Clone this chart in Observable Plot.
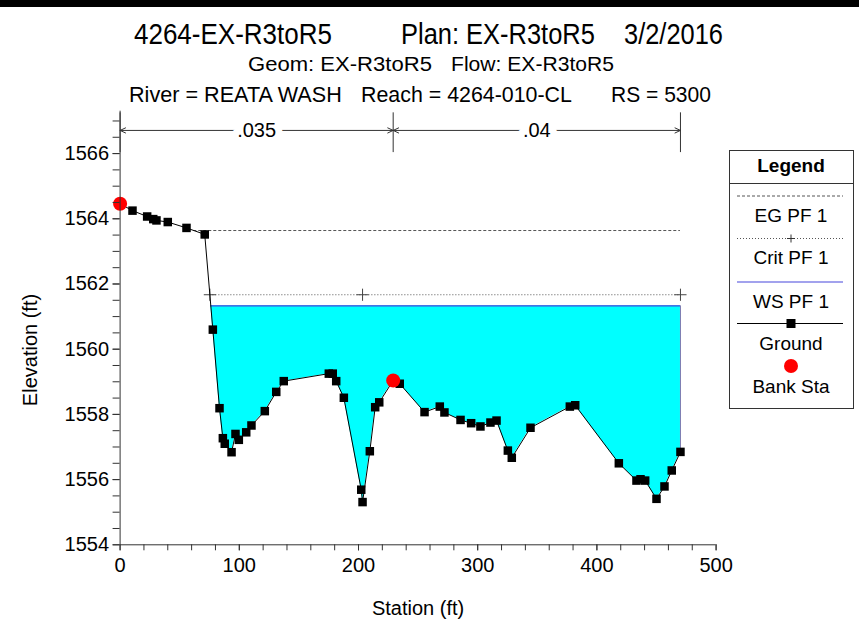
<!DOCTYPE html>
<html><head><meta charset="utf-8">
<script src="https://cdn.jsdelivr.net/npm/d3@7"></script>
<script src="https://cdn.jsdelivr.net/npm/@observablehq/plot@0.6"></script>
<style>
html,body{margin:0;padding:0;background:#fff;}
#wrap{position:relative;width:859px;height:622px;overflow:hidden;font-family:"Liberation Sans",Arial,sans-serif;}
#wrap > svg{position:absolute;left:0;top:0;}
</style></head><body><div id="wrap"></div>
<script>
// ---- data ----
const station = [0, 10.4, 22.7, 27.8, 30.5, 40, 55.7, 71, 77.8, 83.4, 86.2, 87.8, 93.5, 96.8, 99.6, 105.8, 110.2, 121.4, 131, 137.3, 175.1, 178.4, 181.3, 187.7, 202.3, 203.4, 209.5, 214, 217.4, 229.1, 234.6, 255.4, 268.2, 272.1, 285.6, 294.5, 302.3, 310.7, 315.8, 325.3, 328.6, 344.3, 377.3, 381.8, 418.4, 433.2, 436.6, 440.5, 450, 456.7, 462.8, 470.1];
const elevation = [1564.46, 1564.25, 1564.07, 1563.99, 1563.95, 1563.9, 1563.72, 1563.52, 1560.6, 1558.19, 1557.27, 1557.1, 1556.84, 1557.4, 1557.22, 1557.45, 1557.66, 1558.1, 1558.69, 1559.02, 1559.25, 1559.25, 1559.02, 1558.51, 1555.69, 1555.31, 1556.87, 1558.22, 1558.37, 1559.04, 1558.94, 1558.07, 1558.24, 1558.06, 1557.83, 1557.73, 1557.63, 1557.75, 1557.81, 1556.89, 1556.67, 1557.59, 1558.24, 1558.28, 1556.5, 1555.97, 1556.01, 1555.97, 1555.41, 1555.79, 1556.28, 1556.85];
const bankStation = [0, 229.1];
const bankElevation = [1564.46, 1559.04];
const wsElevation = 1561.33;
const egElevation = 1563.64;
const critElevation = 1561.67;
const nBreaks = [0, 229.1, 470.1];
const nValues = [".035", ".04"];
const xTicks = [0, 100, 200, 300, 400, 500];
const yTicks = [1554, 1556, 1558, 1560, 1562, 1564, 1566];
const titleLine1 = ["4264-EX-R3toR5", "Plan: EX-R3toR5", "3/2/2016"];
const titleLine2 = ["Geom: EX-R3toR5", "Flow: EX-R3toR5"];
const titleLine3 = ["River = REATA WASH", "Reach = 4264-010-CL", "RS = 5300"];
const legendLabels = ["EG PF 1", "Crit PF 1", "WS PF 1", "Ground", "Bank Sta"];
const xLabel = "Station (ft)";
const yLabel = "Elevation (ft)";

// ---- derived tables ----
const ground = station.map((s, i) => ({x: s, y: elevation[i]}));
const bank = bankStation.map((s, i) => ({x: s, y: bankElevation[i]}));
const endStation = station[station.length - 1];
const endElev = elevation[elevation.length - 1];
function crossing(level) {
  for (let i = 1; i < ground.length; i++) {
    const a = ground[i - 1], b = ground[i];
    if (a.y >= level && b.y < level) return a.x + (a.y - level) / (a.y - b.y) * (b.x - a.x);
  }
  return ground[0].x;
}
const wsStart = crossing(wsElevation);
const egStart = crossing(egElevation);
const critStart = crossing(critElevation);
const water = [{x: wsStart, y: wsElevation}, ...ground.filter(d => d.x > wsStart)];
const thalweg = d3.least(ground, d => d.y).x;
const critMarks = [critStart, thalweg, endStation];
const nZones = nValues.map((n, i) => ({a: nBreaks[i], b: nBreaks[i + 1], mid: (nBreaks[i] + nBreaks[i + 1]) / 2, n}));
const nArrows = nZones.flatMap(z => [{x1: z.mid, x2: z.a, n: z.n}, {x1: z.mid, x2: z.b, n: z.n}]);

const yTop = 1567.3;
const nY = 1566.71;

const plot = Plot.plot({
  width: 859, height: 622,
  marginLeft: 119.6, marginRight: 143.4, marginTop: 110.7, marginBottom: 77.7,
  style: {fontFamily: "'Liberation Sans', Arial, sans-serif", fontSize: "20px", background: "transparent", color: "#000", overflow: "visible"},
  x: {domain: [0, 500]},
  y: {domain: [1554, yTop]},
  marks: [
    Plot.areaY(water, {x: "x", y1: "y", y2: wsElevation, fill: "#00ffff"}),
    Plot.ruleY([wsElevation], {x1: wsStart, x2: endStation, stroke: "#4646dc", strokeWidth: 1.2}),
    Plot.ruleX([endStation], {y1: endElev, y2: wsElevation, stroke: "#7a7ab0", strokeWidth: 1}),
    Plot.ruleY([egElevation], {x1: egStart, x2: endStation, stroke: "#555", strokeWidth: 1, strokeDasharray: "3,2"}),
    Plot.ruleY([critElevation], {x1: critStart, x2: endStation, stroke: "#555", strokeWidth: 1, strokeDasharray: "1,2"}),
    Plot.dot(critMarks, {x: d => d, y: critElevation, symbol: "plus", r: 4, stroke: "#444", strokeWidth: 1}),
    Plot.line(ground, {x: "x", y: "y", stroke: "#000", strokeWidth: 1}),
    Plot.dot(ground, {x: "x", y: "y", symbol: "square", r: 4.8, fill: "#000", stroke: "none"}),
    Plot.dot(bank, {x: "x", y: "y", r: 7, fill: "#ff0000", stroke: "none"}),
    // axes
    Plot.ruleY([1554], {stroke: "#333"}),
    Plot.ruleX([0], {stroke: "#333"}),
    Plot.axisX({ticks: d3.range(0, 501, 20), tickSize: 6, tickFormat: () => "", label: null, stroke: "#333"}),
    Plot.axisX({ticks: xTicks, tickSize: 6, tickPadding: 7, label: null, stroke: "#333", fontSize: 20}),
    Plot.axisY({ticks: d3.range(1554, 1567.01, 0.5), tickSize: 7, tickFormat: () => "", label: null, stroke: "#333"}),
    Plot.axisY({ticks: yTicks, tickSize: 7, tickPadding: 4, tickFormat: d => d3.format("d")(d), label: null, stroke: "#333", fontSize: 20}),
    Plot.text([xLabel], {frameAnchor: "bottom", dy: 64, lineAnchor: "middle", fontSize: 20}),
    // Manning's n bar
    Plot.ruleX(nBreaks, {y1: 1566.03, y2: 1567.25, stroke: "#333"}),
    Plot.arrow(nArrows, {x1: "x1", x2: "x2", y1: nY, y2: nY, stroke: "#333", strokeWidth: 1, headLength: 9, headAngle: 50, bend: 0}),
    Plot.text(nZones, {x: "mid", y: nY, text: "n", fontSize: 20, fill: "#fff", stroke: "#fff", strokeWidth: 14}),
    Plot.text(nZones, {x: "mid", y: nY, text: "n", fontSize: 20, fill: "#000"})
  ]
});
const wrap = document.getElementById("wrap");
wrap.appendChild(plot);

// ---- overlay: titles, y label and legend ----
const svg = d3.select(wrap).append("svg").attr("width", 859).attr("height", 622)
  .style("font-family", "'Liberation Sans', Arial, sans-serif");
svg.append("rect").attr("x", 0).attr("y", 0).attr("width", 859).attr("height", 7).attr("fill", "#000");
function pieces(arr, spans, baseline, size) {
  arr.forEach((t, i) => {
    const el = svg.append("text").attr("x", 0).attr("y", 0).attr("font-size", size).attr("fill", "#000").text(t);
    const w = el.node().getComputedTextLength();
    const sx = (spans[i][1] - spans[i][0]) / w;
    el.attr("transform", `translate(${spans[i][0]},${baseline}) scale(${sx},1)`);
  });
}
pieces(titleLine1, [[134, 332], [401, 595], [624, 723]], 44, 30);
pieces(titleLine2, [[248, 432], [451, 614]], 71, 21);
pieces(titleLine3, [[129, 342], [361, 572], [611, 711]], 102, 22);

svg.append("text").attr("transform", "translate(37,350) rotate(-90)").attr("text-anchor", "middle")
  .attr("font-size", 20).attr("fill", "#000").text(yLabel);

const lg = svg.append("g");
const L = 729, R = 853, T = 150, B = 408;
lg.append("rect").attr("x", L + 0.5).attr("y", T + 0.5).attr("width", R - L).attr("height", B - T)
  .attr("fill", "#fff").attr("stroke", "#333").attr("stroke-width", 1);
lg.append("line").attr("x1", L).attr("x2", R).attr("y1", 183.5).attr("y2", 183.5).attr("stroke", "#333");
const cx = (L + R) / 2;
lg.append("text").attr("x", cx).attr("y", 172).attr("text-anchor", "middle").attr("font-size", 19)
  .attr("font-weight", "bold").text("Legend");
const lx1 = 737, lx2 = 843;
lg.append("line").attr("x1", lx1).attr("x2", lx2).attr("y1", 196).attr("y2", 196).attr("stroke", "#555").attr("stroke-dasharray", "3,2");
lg.append("line").attr("x1", lx1).attr("x2", lx2).attr("y1", 238.5).attr("y2", 238.5).attr("stroke", "#555").attr("stroke-dasharray", "1,2");
lg.append("path").attr("d", `M${cx - 4},238.5H${cx + 4}M${cx},234.5V242.5`).attr("stroke", "#333");
lg.append("line").attr("x1", lx1).attr("x2", lx2).attr("y1", 282).attr("y2", 282).attr("stroke", "#4646dc").attr("stroke-width", 1.2);
lg.append("line").attr("x1", lx1).attr("x2", lx2).attr("y1", 323.5).attr("y2", 323.5).attr("stroke", "#000");
lg.append("rect").attr("x", cx - 4.5).attr("y", 319).attr("width", 9).attr("height", 9).attr("fill", "#000");
lg.append("circle").attr("cx", cx).attr("cy", 366).attr("r", 7).attr("fill", "#ff0000");
[222, 264, 308, 350, 393].forEach((y, i) => {
  lg.append("text").attr("x", cx).attr("y", y).attr("text-anchor", "middle").attr("font-size", 19).text(legendLabels[i]);
});
</script></body></html>
